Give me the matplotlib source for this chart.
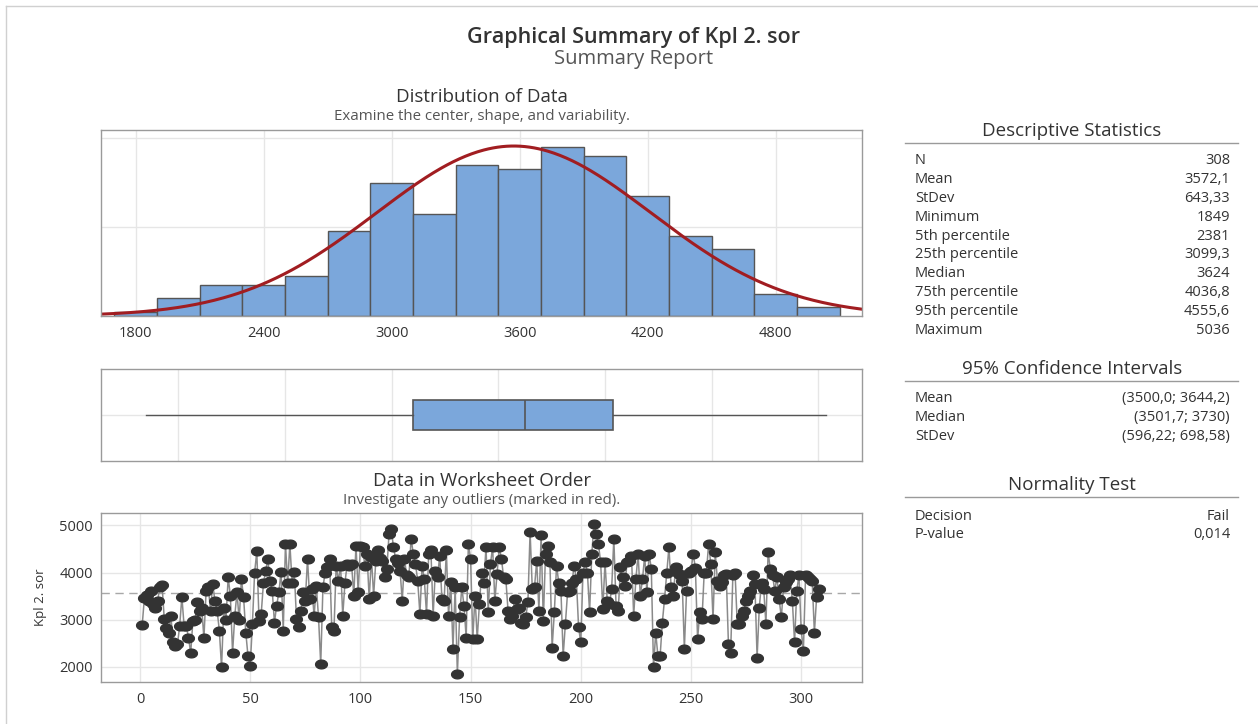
#!/usr/bin/env python3
"""
Graphical summary for Kpl 2. sor: histogram with normal fit, box plot,
worksheet-order plot and a table of descriptive statistics.
"""
import numpy as np
import matplotlib
matplotlib.use('Agg')
import matplotlib.pyplot as plt
from matplotlib.path import Path

plt.rcParams['font.family'] = ['Open Sans', 'DejaVu Sans']
plt.rcParams['font.size'] = 9

# Histogram bins (width 200) and counts
BIN_CENTERS = [1800, 2000, 2200, 2400, 2600, 2800, 3000, 3200, 3400,
               3600, 3800, 4000, 4200, 4400, 4600, 4800, 5000]
BIN_COUNTS = [1, 4, 7, 7, 9, 19, 30, 23, 34, 33, 38, 36, 27, 18, 15, 5, 2]
BIN_WIDTH = 200

# Summary statistics
N = 308
MEAN = 3572.1
STDEV = 643.33
MINIMUM = 1849
P5 = 2381
Q1 = 3099.3
MEDIAN = 3624
Q3 = 4036.8
P95 = 4555.6
MAXIMUM = 5036

# Observations in worksheet order
VALUES = [
    2890, 3470, 3520, 3400, 3620, 3330, 3260, 3400, 3700, 3740,
    3020, 2830, 2730, 3085, 2520, 2450, 2480, 2870, 3490, 2870,
    2870, 2620, 2300, 2980, 3000, 3370, 3190, 3250, 2610, 3620,
    3690, 3190, 3760, 3400, 3190, 2770, 1990, 3260, 3000, 3900,
    3510, 2300, 3085, 3580, 3000, 3860, 3475, 2730, 2230, 2020,
    2910, 4000, 4450, 2980, 3130, 3770, 4040, 4280, 3830, 3620,
    2940, 3300, 3580, 4020, 2770, 4610, 3770, 4610, 3790, 4020,
    3015, 2840, 3190, 3580, 3400, 4290, 3440, 3660, 3085, 3720,
    3050, 2060, 3690, 4000, 4110, 4290, 2840, 2770, 4150, 3830,
    4150, 3085, 3790, 4180, 4150, 4180, 3510, 4570, 3580, 4570,
    4550, 4150, 4400, 3440, 4330, 3510, 4250, 4470, 4300, 4250,
    3900, 4080, 4820, 4930, 4540, 4290, 4200, 4040, 3400, 4290,
    3940, 3900, 4720, 4400, 4180, 3830, 3120,
    4150, 3860, 3120, 4400, 4470, 3085, 4040, 3900, 4360, 3440,
    3400, 4470, 3085, 3800, 2390, 3690, 1849,
    3050, 3690, 3300, 2620, 4610, 4290, 2590, 3510, 2590, 3330,
    4000, 3790, 4540, 3160, 4180, 4540, 3400, 3970, 4540,
    4290, 3900, 3860, 3190, 3010, 3085, 3440, 3230, 3260,
    2940, 2910, 3050, 3370, 4860, 3650, 3690, 4250,
    3190, 4790, 2980, 4400, 4570, 4220, 2410, 3160, 4150, 3790,
    3620, 2230, 2910, 3580, 3620, 3790, 4150, 3860,
    2840, 2520, 4000, 4220, 4000, 3160, 4400, 5036, 4820, 4610,
    4220, 3230, 4220, 3400, 3330, 3650, 4720, 3300, 3190, 4110,
    3900, 3720, 4220, 4250, 4360, 3085, 3860, 4400, 3510, 3860,
    4360, 3580, 4400, 4080, 1990, 2730, 2230, 2230, 2940, 3440,
    4000, 4540, 3690, 3510, 4110, 3990, 3940, 3830, 2380, 3620, 4000,
    4040, 4400, 4100, 2590, 3160, 3010, 4000, 4000, 4610, 4180, 3010,
    4430, 3830, 3720, 3800, 3940, 3970, 2480, 2300, 3940, 4000, 2910,
    2910, 3085, 3190, 3400, 3510, 3620, 3940, 3760, 2200, 3260,
    3790, 3650, 2910, 4430, 4080, 3950, 3620, 3900, 3440, 3050, 3690,
    3800, 3860, 3940, 3400, 2520, 3620, 3940, 2800, 2340, 3940, 3900, 3860,
    3830, 2730, 3475, 3650,
]

DESC_LABELS = ['N', 'Mean', 'StDev', 'Minimum', '5th percentile', '25th percentile',
               'Median', '75th percentile', '95th percentile', 'Maximum']
DESC_VALUES = ['308', '3572,1', '643,33', '1849', '2381', '3099,3',
               '3624', '4036,8', '4555,6', '5036']
CI_LABELS = ['Mean', 'Median', 'StDev']
CI_VALUES = ['(3500,0; 3644,2)', '(3501,7; 3730)', '(596,22; 698,58)']
NORM_LABELS = ['Decision', 'P-value']
NORM_VALUES = ['Fail', '0,014']

HIST_TICKS = [1800, 2400, 3000, 3600, 4200, 4800]
BOX_GRID = [2000, 2500, 3000, 3500, 4000, 4500, 5000]
ORDER_XTICKS = [0, 50, 100, 150, 200, 250, 300]
ORDER_YTICKS = [2000, 3000, 4000, 5000]

BAR_COLOR = '#7ba7db'
EDGE_COLOR = '#555555'
CURVE_COLOR = '#a11d21'
GRID_COLOR = '#e6e6e6'
FRAME_COLOR = '#9a9a9a'
TEXT_COLOR = '#333333'
SUB_COLOR = '#555555'

W, H = 1258, 724
XLIM = (1638, 5204)
TICK_SIZE = 10.5

# flattened round marker for the worksheet plot
_t = np.linspace(0, 2 * np.pi, 25)
DOT = Path(np.column_stack([1.35 * np.cos(_t), np.sin(_t)]))


def rect(left, top, right, bottom):
    """Axes rectangle from pixel edges."""
    return [left / W, 1 - bottom / H, (right - left) / W, (bottom - top) / H]


def ftext(fig, x, y, s, **kw):
    fig.text(x / W, 1 - y / H, s, **kw)


def style_frame(ax):
    for sp in ax.spines.values():
        sp.set_color(FRAME_COLOR)
        sp.set_linewidth(1.0)
    ax.tick_params(length=0, colors=TEXT_COLOR, labelsize=TICK_SIZE)
    ax.set_axisbelow(True)


fig = plt.figure(figsize=(W / 100, H / 100), dpi=100)

# Outer panel border
fig.add_artist(plt.Line2D([6 / W, 6 / W], [0, 1 - 6 / H], color='#d0d0d0', lw=1))
fig.add_artist(plt.Line2D([6 / W, 1], [1 - 6 / H, 1 - 6 / H], color='#d0d0d0', lw=1))

# Titles
ftext(fig, 634, 37, 'Graphical Summary of Kpl 2. sor', ha='center', va='center',
      fontsize=15.5, fontweight='semibold', color=TEXT_COLOR)
ftext(fig, 634, 59, 'Summary Report', ha='center', va='center', fontsize=14.5, color=SUB_COLOR)
ftext(fig, 482, 97, 'Distribution of Data', ha='center', va='center', fontsize=13.5, color=TEXT_COLOR)
ftext(fig, 482, 117, 'Examine the center, shape, and variability.', ha='center', va='center',
      fontsize=10.8, color=SUB_COLOR)
ftext(fig, 482, 481, 'Data in Worksheet Order', ha='center', va='center', fontsize=13.5,
      color=TEXT_COLOR)
ftext(fig, 482, 500, 'Investigate any outliers (marked in red).', ha='center', va='center',
      fontsize=10.8, color=SUB_COLOR)

# Histogram with normal fit
ax_h = fig.add_axes(rect(101, 130, 862, 316))
style_frame(ax_h)
ax_h.bar(BIN_CENTERS, BIN_COUNTS, width=BIN_WIDTH, color=BAR_COLOR,
         edgecolor=EDGE_COLOR, linewidth=1.0)
xs = np.linspace(XLIM[0], XLIM[1], 500)
fit = N * BIN_WIDTH * np.exp(-0.5 * ((xs - MEAN) / STDEV) ** 2) / (STDEV * np.sqrt(2 * np.pi))
ax_h.plot(xs, fit, color=CURVE_COLOR, linewidth=2.2)
ax_h.set_xlim(XLIM)
ax_h.set_ylim(0, 41.8)
ax_h.set_xticks(HIST_TICKS)
ax_h.set_yticks([20, 40])
ax_h.set_yticklabels([])
ax_h.grid(True, color=GRID_COLOR, linewidth=1)
ax_h.tick_params(axis='x', pad=7)

# Box plot
ax_b = fig.add_axes(rect(101, 369, 862, 461))
style_frame(ax_b)
box_stats = [{'med': MEDIAN, 'q1': Q1, 'q3': Q3, 'whislo': MINIMUM,
              'whishi': MAXIMUM, 'fliers': []}]
ax_b.bxp(box_stats, positions=[1], widths=0.33, orientation='horizontal',
         showcaps=False, showfliers=False, patch_artist=True,
         boxprops=dict(facecolor=BAR_COLOR, edgecolor=EDGE_COLOR, linewidth=1.2),
         medianprops=dict(color=EDGE_COLOR, linewidth=1.2),
         whiskerprops=dict(color=EDGE_COLOR, linewidth=1.0))
ax_b.set_xlim(XLIM)
ax_b.set_ylim(0.5, 1.5)
ax_b.set_xticks(BOX_GRID)
ax_b.set_yticks([1])
ax_b.set_xticklabels([])
ax_b.set_yticklabels([])
ax_b.grid(True, color=GRID_COLOR, linewidth=1)

# Observations in worksheet order
ax_o = fig.add_axes(rect(101, 513, 862, 682))
style_frame(ax_o)
idx = np.arange(1, len(VALUES) + 1)
ax_o.plot(idx, VALUES, color='#8a8a8a', linewidth=1.1, zorder=2)
ax_o.plot(idx, VALUES, linestyle='none', marker=DOT, markersize=8.5,
          color='#333333', markeredgecolor='#333333', zorder=3)
ax_o.axhline(MEAN, color='#a8a8a8', linestyle=(0, (6, 4)), linewidth=1, zorder=1)
ax_o.set_xlim(-17.7, 327.6)
ax_o.set_ylim(1681, 5264)
ax_o.set_xticks(ORDER_XTICKS)
ax_o.set_yticks(ORDER_YTICKS)
ax_o.grid(True, color=GRID_COLOR, linewidth=1)
ax_o.tick_params(axis='x', pad=7)
ax_o.tick_params(axis='y', pad=6)
ax_o.set_ylabel('Kpl 2. sor', fontsize=9.5, color=TEXT_COLOR, labelpad=9)

# Statistics tables on the right
X_LEFT, X_RIGHT = 915, 1230


def table(header, header_y, labels, values, first_y, step=18.8):
    ftext(fig, 1072, header_y, header, ha='center', va='center', fontsize=13.5,
          color=TEXT_COLOR)
    fig.add_artist(plt.Line2D([905 / W, 1238 / W], [1 - (header_y + 12) / H] * 2,
                              color='#9a9a9a', lw=1))
    for i, (lab, val) in enumerate(zip(labels, values)):
        y = first_y + i * step
        ftext(fig, X_LEFT, y, lab, ha='left', va='center', fontsize=10.5, color=TEXT_COLOR)
        ftext(fig, X_RIGHT, y, val, ha='right', va='center', fontsize=10.5, color=TEXT_COLOR)


table('Descriptive Statistics', 131, DESC_LABELS, DESC_VALUES, 161)
table('95% Confidence Intervals', 369, CI_LABELS, CI_VALUES, 399)
table('Normality Test', 485, NORM_LABELS, NORM_VALUES, 516)

fig.savefig('out.png', dpi=100, facecolor='white')
